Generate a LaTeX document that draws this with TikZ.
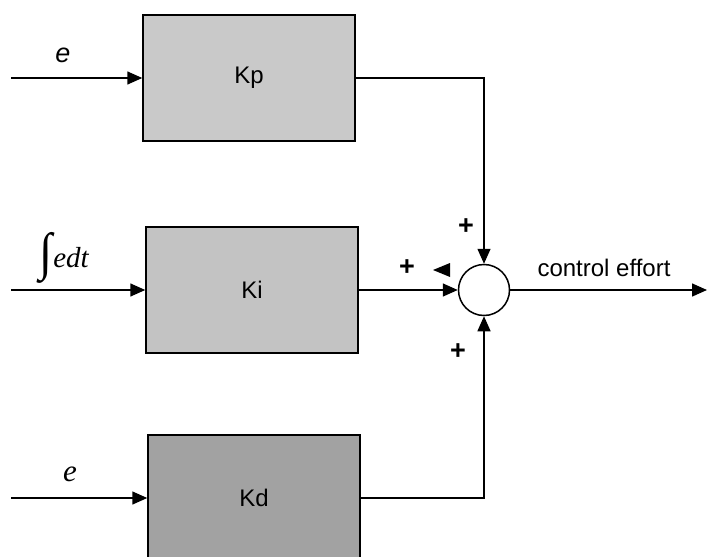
\documentclass[tikz,border=0pt]{standalone}
\usepackage{amsmath}
\usepackage{fontspec}
\setmainfont{Liberation Serif}
\setsansfont{Liberation Sans}
\usetikzlibrary{arrows.meta,positioning,calc}
\definecolor{gainP}{HTML}{C9C9C9}
\definecolor{gainI}{HTML}{C3C3C3}
\definecolor{gainD}{HTML}{A2A2A2}
\newcommand{\tallint}{\raisebox{-16pt}{\resizebox{13pt}{51pt}{\raisebox{\depth}{\upshape ∫}}}}

\begin{document}
\begin{tikzpicture}[x=1pt,y=-1pt,line width=1.5pt,
  every node/.style={font=\sffamily\fontsize{24}{26}\selectfont},
  >={Triangle[length=15pt,width=13pt]},
  gainbox/.style={draw,line width=1.5pt,minimum width=212pt,minimum height=126pt,inner sep=0pt},
  sumnode/.style={draw,circle,line width=1.5pt,minimum size=51pt,inner sep=0pt},
  sgn/.style={font=\sffamily\bfseries\fontsize{27}{29}\selectfont,inner sep=0pt}]
  \useasboundingbox[fill=white] (0,0) rectangle (708,556);
  \node[gainbox,fill=gainP] (Kp) at (249,78) {Kp};
  \node[gainbox,fill=gainI] (Ki) at (252,290) {Ki};
  \node[gainbox,fill=gainD] (Kd) at (254,498) {Kd};
  \node[sumnode] (sum) at (484,290) {};
  \coordinate (out) at (707,290);
  \foreach \g/\y in {Kp/78,Ki/290,Kd/498}{
    \coordinate (in\g) at (11,\y);
    \draw[->] (in\g) -- (\g.west);
  }
  \draw[->] (Kp.east) -| (sum.north);
  \draw[->] (Ki.east) -- (sum.west);
  \draw[->] (Kd.east) -| (sum.south);
  \draw[->] (sum.east) -- (out);
  \node[font=\sffamily\itshape\fontsize{27}{29}\selectfont,inner sep=0pt] (eP) at (63,55) {e};
  \node[font=\rmfamily\itshape\fontsize{29}{31}\selectfont,inner sep=0pt] (eI) at (64,258)
    {\tallint\kern1pt edt};
  \node[font=\rmfamily\itshape\fontsize{31}{33}\selectfont,inner sep=0pt] (eD) at (70,474) {e};
  \node[anchor=base,font=\sffamily\fontsize{24}{26}\selectfont] (effort) at (604,276) {control effort};
  \node[sgn] (plusP) at (466,227) {+};
  \node[sgn] (plusI) at (407,268) {+};
  \node[sgn] (plusD) at (458,352) {+};
  \coordinate (stray) at (433,270);
  \fill (stray) -- ++(17,-7) -- ++(0,14) -- cycle;
\end{tikzpicture}
\end{document}
